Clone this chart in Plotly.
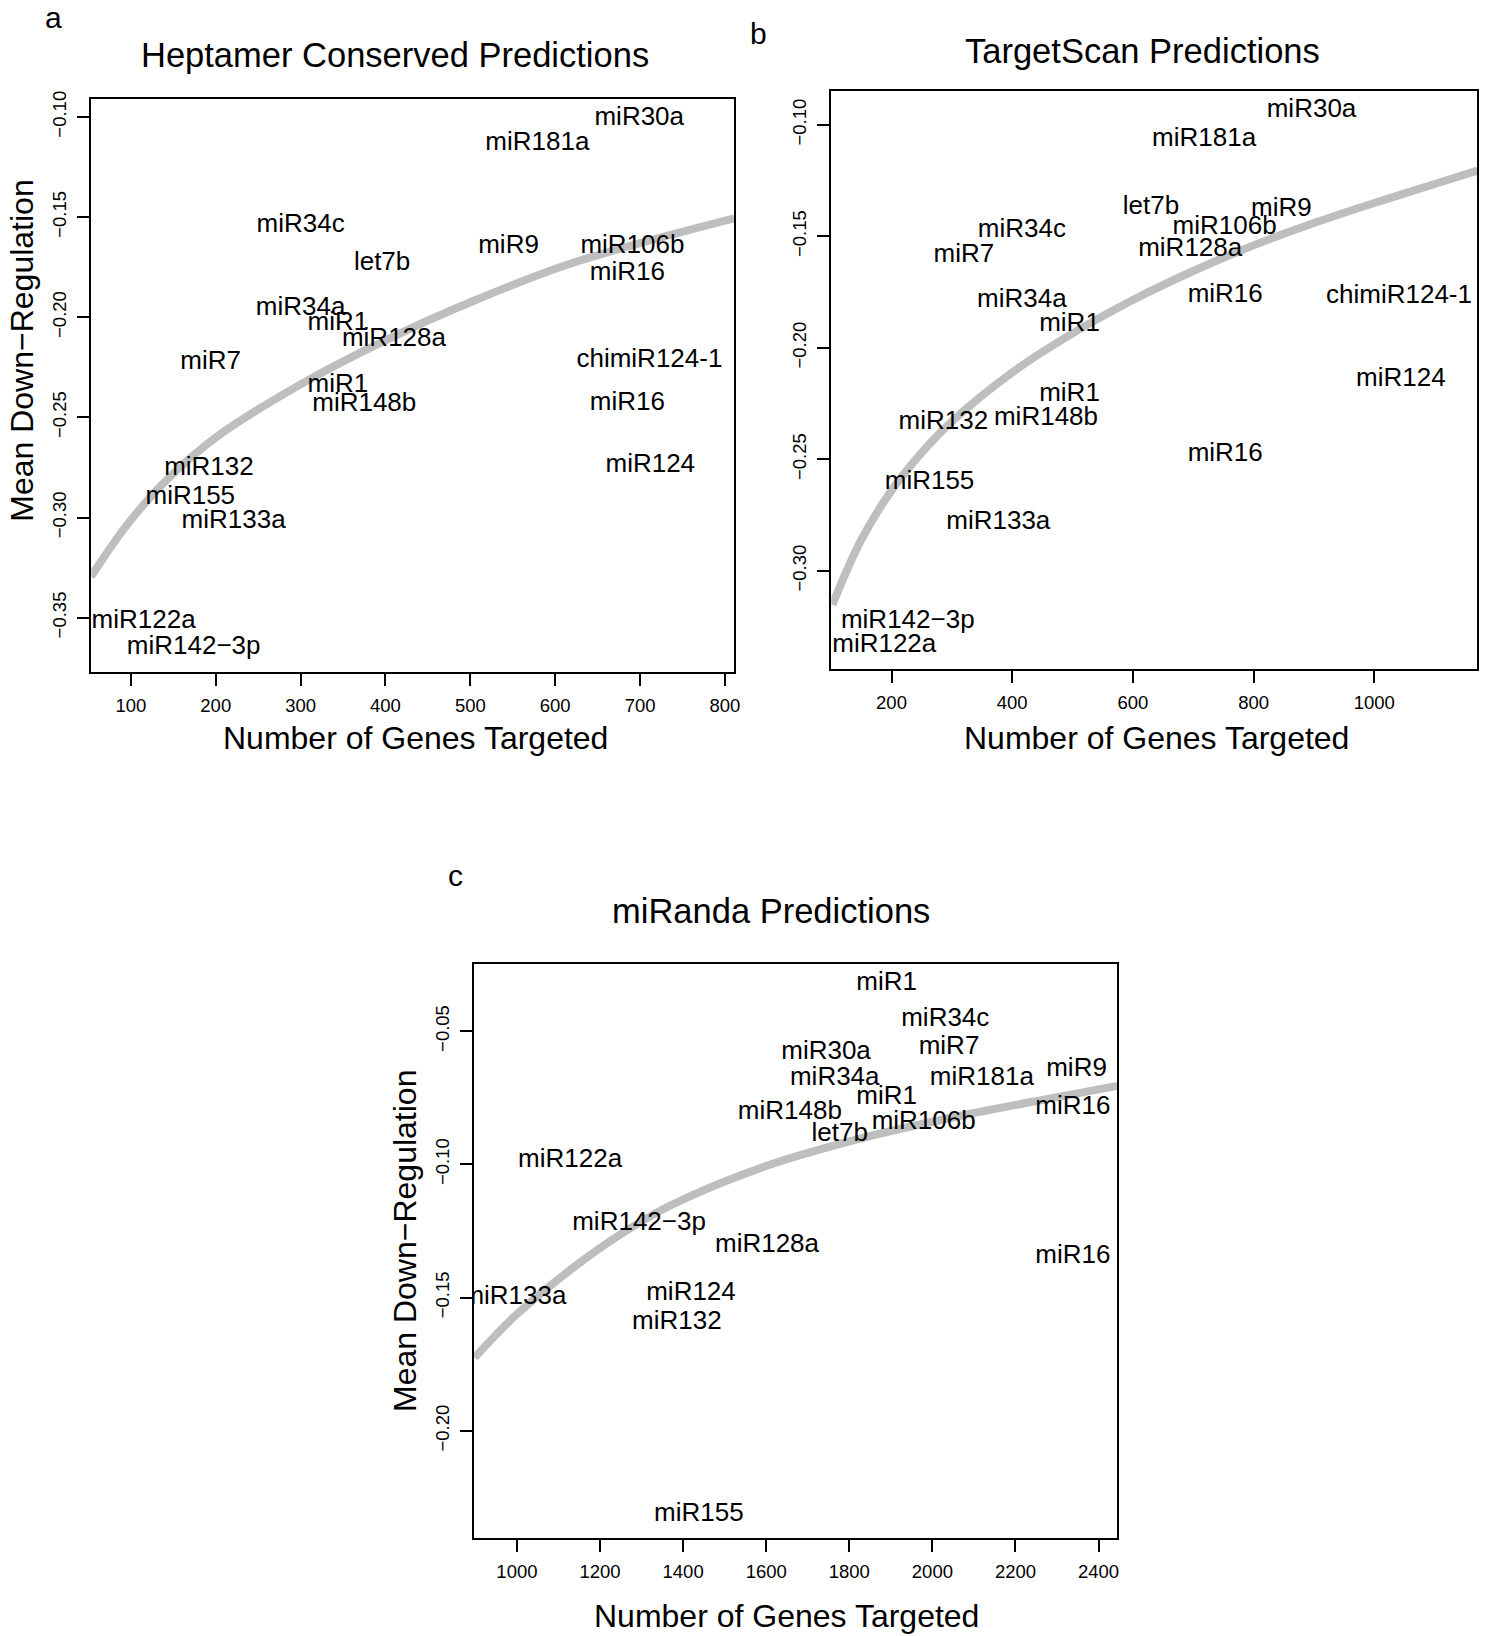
import plotly.graph_objects as go

W, H = 1493, 1636
FONT = "Liberation Sans, Arial, Helvetica, sans-serif"
MINUS = "\u2212"

# ---------------- panel a: heptamer conserved predictions ----------------
hep_names = ["miR30a", "miR181a", "miR34c", "miR9", "miR106b", "let7b", "miR16",
             "miR34a", "miR1", "miR128a", "miR7", "chimiR124-1", "miR1", "miR148b",
             "miR16", "miR132", "miR124", "miR155", "miR133a", "miR122a",
             "miR142" + MINUS + "3p"]
hep_genes = [699, 579, 300, 545, 691, 396, 685, 300, 344, 410, 194, 711, 344, 375,
             685, 192, 712, 170, 221, 115, 174]
hep_down = [-0.1010, -0.1133, -0.1542, -0.1648, -0.1648, -0.1733, -0.1781, -0.1957,
            -0.2029, -0.2109, -0.2227, -0.2217, -0.2343, -0.2434, -0.2432, -0.2757,
            -0.2740, -0.2902, -0.3018, -0.3519, -0.3649]
hep_fit_genes = [53, 93, 138, 200, 300, 400, 509, 621, 811]
hep_fit_down = [-0.3295, -0.3050, -0.2830, -0.2600, -0.2335, -0.2115, -0.1909,
                -0.1728, -0.1506]
hep_xticks = [100, 200, 300, 400, 500, 600, 700, 800]
hep_yticks = [-0.10, -0.15, -0.20, -0.25, -0.30, -0.35]

# ---------------- panel b: TargetScan predictions ----------------
ts_names = ["miR30a", "miR181a", "let7b", "miR9", "miR34c", "miR106b", "miR128a",
            "miR7", "miR16", "chimiR124-1", "miR34a", "miR1", "miR124", "miR1",
            "miR132", "miR148b", "miR16", "miR155", "miR133a",
            "miR142" + MINUS + "3p", "miR122a"]
ts_genes = [896, 718, 630, 846, 416, 752, 695, 320, 753, 1041, 416, 495, 1044, 495,
            286, 456, 753, 263, 377, 227, 188]
ts_down = [-0.0937, -0.1067, -0.1370, -0.1379, -0.1472, -0.1461, -0.1558, -0.1587,
           -0.1764, -0.1771, -0.1788, -0.1894, -0.2143, -0.2210, -0.2333, -0.2318,
           -0.2480, -0.2604, -0.2784, -0.3227, -0.3335]
ts_fit_genes = [102, 150, 200, 250, 300, 400, 500, 600, 700, 800, 900, 1000, 1100, 1171]
ts_fit_down = [-0.3152, -0.2860, -0.2640, -0.2470, -0.2330, -0.2110, -0.1935,
               -0.1785, -0.1655, -0.1540, -0.1440, -0.1350, -0.1265, -0.1205]
ts_xticks = [200, 400, 600, 800, 1000]
ts_yticks = [-0.10, -0.15, -0.20, -0.25, -0.30]

# ---------------- panel c: miRanda predictions ----------------
mr_names = ["miR1", "miR34c", "miR7", "miR30a", "miR9", "miR34a", "miR181a", "miR1",
            "miR16", "miR148b", "miR106b", "let7b", "miR122a",
            "miR142" + MINUS + "3p", "miR128a", "miR16", "miR133a", "miR124",
            "miR132", "miR155"]
mr_genes = [1890, 2031, 2040, 1744, 2347, 1765, 2119, 1890, 2338, 1657, 1979, 1777,
            1128, 1294, 1602, 2338, 994, 1419, 1385, 1438]
mr_down = [-0.0319, -0.0454, -0.0561, -0.0578, -0.0642, -0.0679, -0.0676, -0.0748,
           -0.0786, -0.0805, -0.0844, -0.0888, -0.0986, -0.1220, -0.1304, -0.1344,
           -0.1498, -0.1485, -0.1594, -0.2314]
mr_fit_genes = [898, 1000, 1136, 1252, 1368, 1601, 1833, 2065, 2298, 2445]
mr_fit_down = [-0.1725, -0.1562, -0.1387, -0.1260, -0.1155, -0.1005, -0.0900,
               -0.0818, -0.0748, -0.0705]
mr_xticks = [1000, 1200, 1400, 1600, 1800, 2000, 2200, 2400]
mr_yticks = [-0.05, -0.10, -0.15, -0.20]

TITLE_SIZE = 34.5
LAB_SIZE = 32
TICK_SIZE = 18.5
TEXT_SIZE = 26
CURVE_COLOR = "#bebebe"


def dom_x(left, right):
    return [left / W, right / W]


def dom_y(top, bottom):
    return [1 - bottom / H, 1 - top / H]


def fmt(v):
    s = f"{abs(v):.2f}"
    return (MINUS + s) if v < 0 else s


def base_axis(dom, rng, ticks, anchor, labels, standoff):
    return dict(domain=dom, range=rng, anchor=anchor, tickmode="array",
                tickvals=ticks, ticktext=labels,
                showline=True, mirror=True, linecolor="black", linewidth=2,
                ticks="outside", ticklen=12, tickwidth=2, tickcolor="black",
                showgrid=False, zeroline=False, ticklabelstandoff=standoff,
                tickfont=dict(family=FONT, size=TICK_SIZE, color="black"))


def make_xaxis(dom, rng, ticks, anchor):
    return base_axis(dom, rng, ticks, anchor, [str(t) for t in ticks], 3)


def make_yaxis(dom, rng, ticks, anchor):
    ax = base_axis(dom, rng, ticks, anchor, [fmt(t) for t in ticks], 4)
    ax["tickangle"] = -90
    return ax


panels = [
    dict(xa="x", ya="y", box=(91.7, 91.0, 737.0, 667.7),
         xr=[53.4, 810.7], yr=[-0.3773, -0.0908], xt=hep_xticks, yt=hep_yticks,
         names=hep_names, gx=hep_genes, gy=hep_down,
         fx=hep_fit_genes, fy=hep_fit_down),
    dict(xa="x2", ya="y2", box=(834.7, 83.7, 1483.3, 664.7),
         xr=[100.3, 1170.8], yr=[-0.3442, -0.0849], xt=ts_xticks, yt=ts_yticks,
         names=ts_names, gx=ts_genes, gy=ts_down,
         fx=ts_fit_genes, fy=ts_fit_down),
    dict(xa="x3", ya="y3", box=(476.0, 960.3, 1121.7, 1538.0),
         xr=[896.9, 2444.8], yr=[-0.2404, -0.0246], xt=mr_xticks, yt=mr_yticks,
         names=mr_names, gx=mr_genes, gy=mr_down,
         fx=mr_fit_genes, fy=mr_fit_down),
]

fig = go.Figure()
layout_axes = {}
for p in panels:
    left, top, right, bottom = p["box"]
    fig.add_trace(go.Scatter(x=p["fx"], y=p["fy"], mode="lines",
                             line=dict(color=CURVE_COLOR, width=8, shape="spline"),
                             xaxis=p["xa"], yaxis=p["ya"], hoverinfo="skip",
                             showlegend=False))
    fig.add_trace(go.Scatter(x=p["gx"], y=p["gy"], mode="text", text=p["names"],
                             textposition="middle center", cliponaxis=True,
                             textfont=dict(family=FONT, size=TEXT_SIZE, color="black"),
                             xaxis=p["xa"], yaxis=p["ya"], showlegend=False))
    xkey = "xaxis" + p["xa"][1:]
    ykey = "yaxis" + p["ya"][1:]
    layout_axes[xkey] = make_xaxis(dom_x(left, right), p["xr"], p["xt"], p["ya"])
    layout_axes[ykey] = make_yaxis(dom_y(top, bottom), p["yr"], p["yt"], p["xa"])


def note(text, x, y, size, angle=0):
    return dict(text=text, x=x / W, y=1 - y / H, xref="paper", yref="paper",
                xanchor="center", yanchor="middle", showarrow=False,
                textangle=angle, font=dict(family=FONT, size=size, color="black"))


XLAB = "Number of Genes Targeted"
YLAB = "Mean Down" + MINUS + "Regulation"
annotations = [
    note("a", 53.5, 10.0, 30),
    note("b", 762.0, 26.0, 30),
    note("c", 457.0, 871.4, 30),
    note("Heptamer Conserved Predictions", 396.4, 46.8, TITLE_SIZE),
    note("TargetScan Predictions", 1147.5, 43.3, TITLE_SIZE),
    note("miRanda Predictions", 774.0, 907.7, TITLE_SIZE),
    note(XLAB, 417.0, 733.5, LAB_SIZE),
    note(XLAB, 1161.0, 733.2, LAB_SIZE),
    note(XLAB, 789.5, 1616.4, LAB_SIZE),
    note(YLAB, 22.5, 344.0, LAB_SIZE, -90),
    note(YLAB, 406.7, 1239.0, LAB_SIZE, -90),
]

fig.update_layout(width=W, height=H, margin=dict(l=0, r=0, t=0, b=0),
                  paper_bgcolor="white", plot_bgcolor="white",
                  showlegend=False, annotations=annotations, **layout_axes)

fig.write_html("out.html")
